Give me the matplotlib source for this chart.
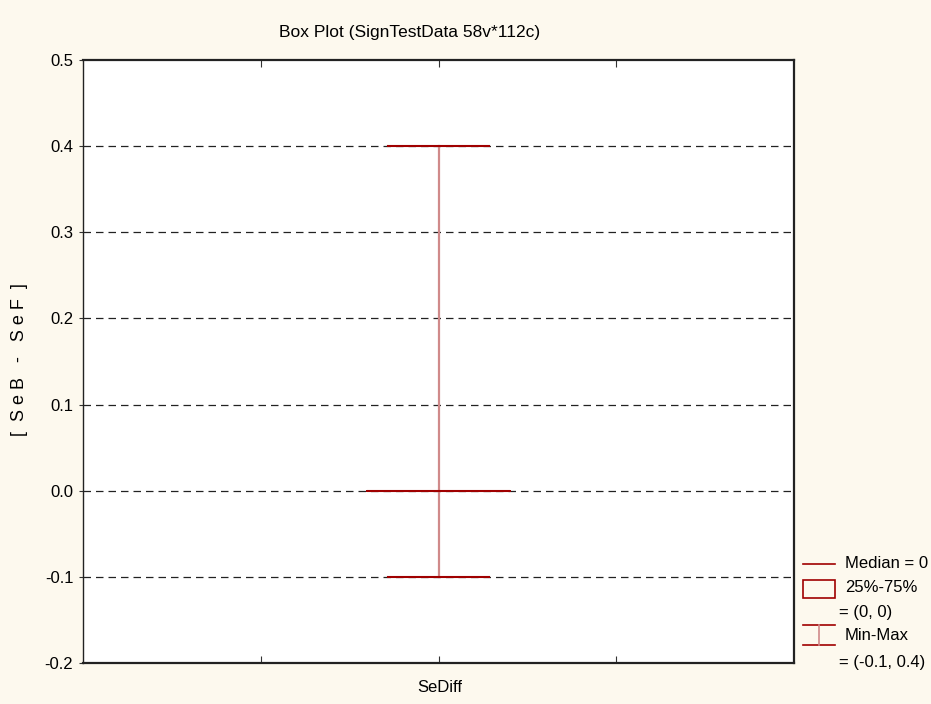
import matplotlib
matplotlib.use("Agg")
import matplotlib.pyplot as plt
from matplotlib.lines import Line2D
from matplotlib.patches import Rectangle

# data
variable = "SeDiff"
median = 0.0
q1, q3 = 0.0, 0.0
vmin, vmax = -0.1, 0.4
yticks = [-0.2, -0.1, 0.0, 0.1, 0.2, 0.3, 0.4, 0.5]
gridvals = [-0.1, 0.0, 0.1, 0.2, 0.3, 0.4]

plt.rcParams['font.family'] = ['Liberation Sans Narrow', 'Liberation Sans', 'DejaVu Sans']

W, H = 931, 704
fig = plt.figure(figsize=(W / 100, H / 100), dpi=100, facecolor='#fdf9ee')
L, R, T, B = 83, 794, 60, 663
ax = fig.add_axes([L / W, 1 - B / H, (R - L) / W, (B - T) / H])
ax.set_facecolor('white')

dark = '#a00000'
light = '#d08a8a'

stats = [dict(med=median, q1=q1, q3=q3, whislo=vmin, whishi=vmax, label=variable)]
ax.bxp(stats, positions=[2], widths=0.8, capwidths=0.57, showfliers=False,
       boxprops=dict(color=dark, linewidth=1.2),
       medianprops=dict(color=dark, linewidth=1.5),
       whiskerprops=dict(color=light, linewidth=1.6),
       capprops=dict(color=dark, linewidth=1.5), zorder=3)

for g in gridvals:
    ax.axhline(g, color='#222222', linestyle=(0, (6, 4)), linewidth=0.9, zorder=1)

ax.set_xlim(0, 4)
ax.set_ylim(-0.2, 0.5)
ax.set_yticks(yticks)
ax.set_yticklabels([f"{v:.1f}" for v in yticks], fontsize=12)
ax.set_xticks([1, 2, 3])
ax.set_xticklabels([])
ax.tick_params(axis='x', direction='in', top=True, bottom=True, length=5, width=0.8, color='#333333')
ax.tick_params(axis='y', direction='out', length=3, width=0.8, pad=4, color='#333333')
for s in ['top', 'right']:
    ax.spines[s].set_linewidth(1.6)
    ax.spines[s].set_color('#222222')
ax.spines['left'].set_linewidth(1.0)
ax.spines['bottom'].set_linewidth(1.6)
ax.spines['left'].set_color('#222222')
ax.spines['bottom'].set_color('#222222')

fig.text(410 / W, 1 - 33 / H, "Box Plot (SignTestData 58v*112c)", ha='center', va='center', fontsize=12.5)
fig.text(440 / W, 1 - 688 / H, variable, ha='center', va='center', fontsize=12)
fig.text(20 / W, 1 - 360 / H, "[  S e B   -   S e F  ]", ha='center', va='center', rotation=90, fontsize=13)

# legend drawn in figure pixel coords
def px(x, y):
    return (x / W, 1 - y / H)

lf = 12
fig.add_artist(Line2D([803 / W, 835 / W], [1 - 564 / H] * 2, color=dark, lw=1.2))
fig.text(*px(845, 564), "Median = 0", va='center', fontsize=lf)
fig.add_artist(Rectangle(px(803, 598), 32 / W, 18 / H, fill=False, edgecolor=dark, lw=1.2, transform=fig.transFigure))
fig.text(*px(845, 588), "25%-75%", va='center', fontsize=lf)
fig.text(*px(839, 612), "= (0, 0)", va='center', fontsize=lf)
fig.add_artist(Line2D([803 / W, 835 / W], [1 - 625 / H] * 2, color=dark, lw=1.2))
fig.add_artist(Line2D([803 / W, 835 / W], [1 - 645 / H] * 2, color=dark, lw=1.2))
fig.add_artist(Line2D([819 / W, 819 / W], [1 - 625 / H, 1 - 645 / H], color=light, lw=1.2))
fig.text(*px(845, 635), "Min-Max", va='center', fontsize=lf)
fig.text(*px(839, 662), "= (-0.1, 0.4)", va='center', fontsize=lf)

fig.savefig("out.png", dpi=100, facecolor=fig.get_facecolor())
